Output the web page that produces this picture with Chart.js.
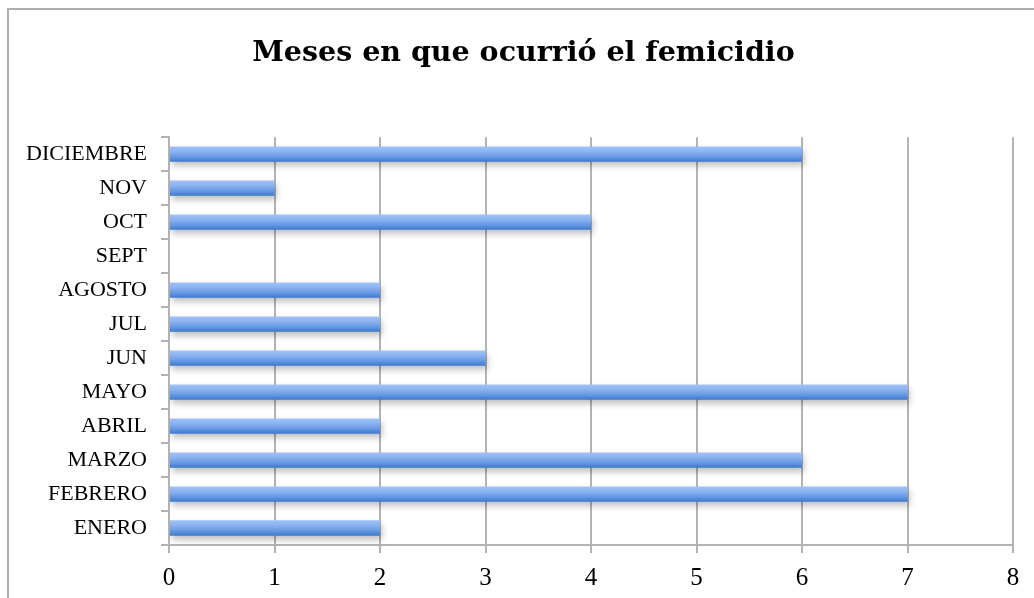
<!DOCTYPE html>
<html>
<head>
<meta charset="utf-8">
<script src="https://cdn.jsdelivr.net/npm/chart.js@4"></script>
<style>
  body { margin: 0; background: #fff; }
  .marco { position: absolute; left: 7px; top: 8px; width: 1200px; height: 800px; border-left: 2px solid #adadad; border-top: 2px solid #adadad; }
  #grafico { position: absolute; left: 0; top: 0; }
</style>
</head>
<body>
<div class="marco"></div>
<canvas id="grafico" width="1034" height="598"></canvas>
<script>
const meses = ['ENERO', 'FEBRERO', 'MARZO', 'ABRIL', 'MAYO', 'JUN', 'JUL', 'AGOSTO', 'SEPT', 'OCT', 'NOV', 'DICIEMBRE']
const casos = [2, 7, 6, 2, 7, 3, 2, 2, 0, 4, 1, 6]
const titulo = 'Meses en que ocurrió el femicidio'
const ejeMax = 8

const ctx = document.getElementById('grafico')

// degradado y sombra de cada barra
const barrasDegradado = {
  id: 'barrasDegradado',
  beforeDatasetsDraw(chart) {
    const c = chart.ctx
    chart.getDatasetMeta(0).data.forEach((barra) => {
      const arriba = barra.y - barra.height / 2
      const abajo = barra.y + barra.height / 2
      const g = c.createLinearGradient(0, arriba, 0, abajo)
      g.addColorStop(0, '#a0c3f8')
      g.addColorStop(0.35, '#89b1f0')
      g.addColorStop(0.7, '#6398e2')
      g.addColorStop(1, '#3d78cd')
      barra.options.backgroundColor = g
    })
    c.save()
    c.shadowColor = 'rgba(0,0,0,0.25)'
    c.shadowBlur = 6
    c.shadowOffsetX = 2
    c.shadowOffsetY = 4
  },
  afterDatasetsDraw(chart) {
    chart.ctx.restore()
  }
}

const chart = new Chart(ctx, {
  type: 'bar',
  data: {
    labels: meses,
    datasets: [{
      data: casos,
      // funcion para que cada barra tenga sus propias opciones
      backgroundColor: (c) => '#6f9fe6',
      borderWidth: 0,
      barPercentage: 0.45,
      categoryPercentage: 1
    }]
  },
  plugins: [barrasDegradado],
  options: {
    indexAxis: 'y',
    responsive: false,
    animation: false,
    devicePixelRatio: 1,
    layout: { padding: { left: 13, right: 0, top: 0, bottom: 0 } },
    plugins: {
      legend: { display: false },
      tooltip: { enabled: false },
      title: {
        display: true,
        text: titulo,
        color: '#000',
        font: { family: '"DejaVu Serif"', size: 28.5, weight: 'bold', lineHeight: 1.2 },
        padding: { top: 36, bottom: 67 }
      }
    },
    scales: {
      x: {
        min: 0,
        max: ejeMax,
        ticks: { stepSize: 1, color: '#000', font: { family: '"Liberation Serif"', size: 25 }, padding: 10 },
        grid: { color: '#b3b3b3', lineWidth: 2, tickLength: 8 },
        border: { color: '#b3b3b3', width: 2 },
        afterFit(scale) { scale.height = 53 }
      },
      y: {
        reverse: true,
        ticks: { color: '#000', font: { family: '"Liberation Serif"', size: 22 }, padding: 14 },
        grid: { offset: true, drawOnChartArea: false, color: '#b3b3b3', lineWidth: 2, tickLength: 8 },
        border: { color: '#b3b3b3', width: 2 },
        afterFit(scale) { scale.width = 156 }
      },
      // eje vacio a la derecha solo para dejar el margen
      margen: {
        axis: 'y',
        type: 'category',
        position: 'right',
        ticks: { display: false },
        grid: { display: false },
        border: { display: false },
        afterFit(scale) { scale.width = 21 }
      }
    }
  }
})
</script>
</body>
</html>
